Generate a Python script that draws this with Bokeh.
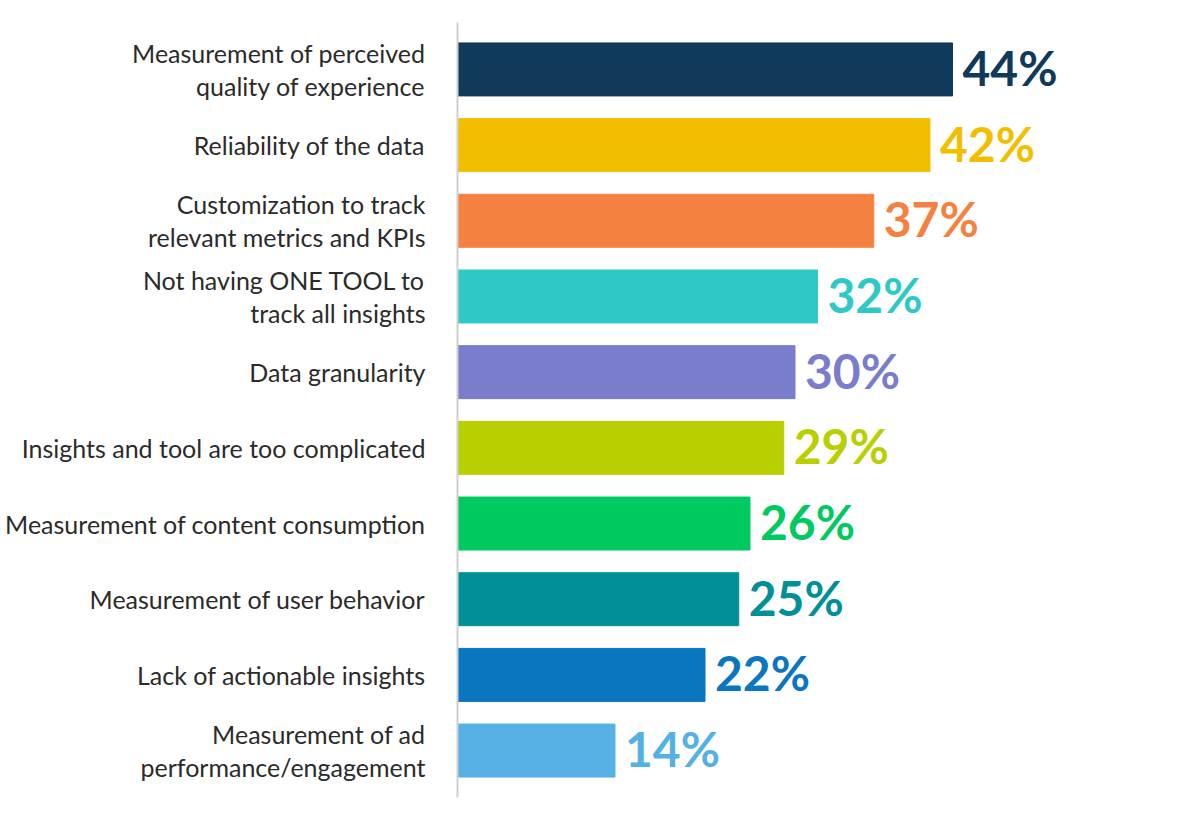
from bokeh.plotting import figure
from bokeh.models import ColumnDataSource, FactorRange, Range1d
from bokeh.core.properties import value
from bokeh.embed import file_html
from bokeh.resources import INLINE

categories = [
    "Measurement of perceived\nquality of experience",
    "Reliability of the data",
    "Customization to track\nrelevant metrics and KPIs",
    "Not having ONE TOOL to\ntrack all insights",
    "Data granularity",
    "Insights and tool are too complicated",
    "Measurement of content consumption",
    "Measurement of user behavior",
    "Lack of actionable insights",
    "Measurement of ad\nperformance/engagement",
]
values = [44, 42, 37, 32, 30, 29, 26, 25, 22, 14]
colors = ["#0f3a5c", "#f2bf00", "#f58140", "#2ec9c6", "#7a7ccc",
          "#b8cf00", "#00c95f", "#009096", "#0a76bf", "#55b1e3"]
labels = [f"{v}%" for v in values]

src = ColumnDataSource(dict(cat=categories, val=values, color=colors, label=labels))

p = figure(width=1184, height=810, output_backend="svg", toolbar_location=None,
           y_range=FactorRange(factors=list(reversed(categories)), range_padding=0.024),
           x_range=Range1d(0, 64),
           min_border_left=457, min_border_right=7, min_border_top=22, min_border_bottom=13)

p.hbar(y="cat", right="val", left=0, height=0.70, color="color", source=src)
p.text(x="val", y="cat", text="label", text_color="color", source=src,
       x_offset=10, y_offset=-2, text_baseline="middle", text_align="left",
       text_font=value("Lato"), text_font_style="bold", text_font_size="48px")

p.xaxis.visible = False
p.xgrid.visible = False
p.ygrid.visible = False
p.outline_line_color = None
p.yaxis.axis_line_color = "#cfcfcf"
p.yaxis.axis_line_width = 2
p.yaxis.major_tick_line_color = None
p.yaxis.minor_tick_line_color = None
p.yaxis.major_label_standoff = 26
p.yaxis.major_label_text_font = "Lato"
p.yaxis.major_label_text_font_size = "25px"
p.yaxis.major_label_text_color = "#2b2b2b"
p.yaxis.major_label_text_line_height = 1.1

open("out.html", "w").write(file_html(p, INLINE))
